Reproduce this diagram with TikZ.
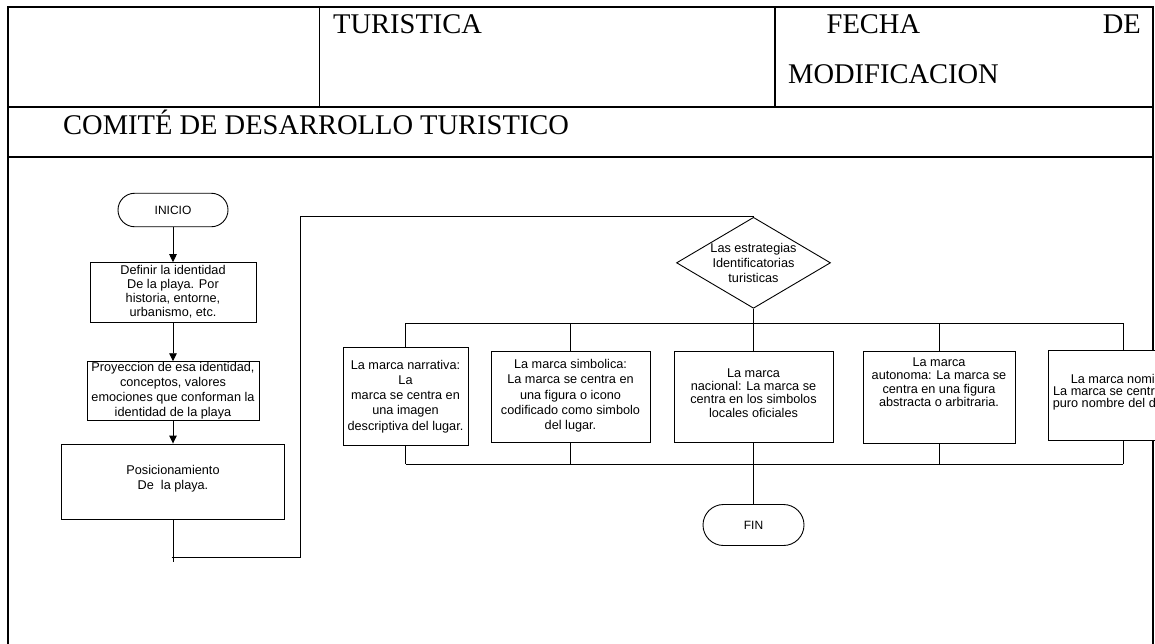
\documentclass[tikz,border=0pt]{standalone}
\usepackage{fontspec}
\setmainfont{Liberation Serif}
\newfontfamily\arialf{Liberation Sans}
\usetikzlibrary{shapes.geometric,arrows.meta}
\newcommand{\boxtxt}[5]{\parbox[c][#2pt][t]{#1pt}{\centering\fontsize{12.7}{#3}\selectfont\rule{0pt}{#4pt}#5}}
\tikzset{
  hdr/.style={font=\fontsize{28.5}{34}\selectfont, inner sep=0pt},
  tline/.style={line width=2pt},
  tthin/.style={line width=1pt},
  conn/.style={line width=0.9pt},
  arr/.style={conn, -{Triangle[length=8pt,width=7.5pt]}},
  term/.style={draw, line width=0.9pt, inner sep=0pt, font=\arialf\fontsize{12}{14}\selectfont},
  fbox/.style={draw, fill=white, line width=0.9pt, inner sep=0pt, font=\arialf},
  dtext/.style={align=center, inner sep=0pt, font=\arialf\fontsize{12.7}{15}\selectfont},
}
\begin{document}
\begin{tikzpicture}[x=1pt,y=-1pt]
\useasboundingbox (0,0) rectangle (1155,643);
\clip (0,0) rectangle (1155,643);
% table
\draw[tline] (8,7) -- (1152.5,7);
\draw[tline] (8,6) -- (8,650);
\draw[tline] (1152.5,6) -- (1152.5,650);
\draw[tline] (8,107) -- (1152.5,107);
\draw[tline] (8,157) -- (1152.5,157);
\draw[tthin] (319,7) -- (319,107);
\draw[line width=1.5pt] (775,7) -- (775,107);
\node[hdr, anchor=base west] (turis) at (333,33) {TURISTICA};
\node[hdr, anchor=base west] (fecha) at (826.5,33) {FECHA};
\node[hdr, anchor=base east] (de) at (1141,33) {DE};
\node[hdr, anchor=base west] (modif) at (788,83.3) {MODIFICACION};
\node[hdr, anchor=base west] (comite) at (63,134.3) {COMITÉ DE DESARROLLO TURISTICO};
% left column
\node[term, minimum width=110, minimum height=33.5, rounded corners=16.7] (ini) at (173,210) {INICIO};
\node[fbox] (b1) at (173,292.3) {\boxtxt{166}{59.3}{14.1}{11.5}{Definir la identidad\\De la playa. Por\\historia, entorne,\\urbanismo, etc.}};
\node[fbox] (b2) at (173,391.2) {\boxtxt{172}{59}{14.8}{10}{Proyeccion de esa identidad,\\conceptos, valores\\emociones que conforman la\\identidad de la playa}};
\node[fbox] (b3) at (173,481.5) {\boxtxt{223.5}{75}{15.3}{30.5}{Posicionamiento\\De\ \ la playa.}};
\draw[arr] (ini.south) -- (b1.north);
\draw[arr] (b1.south) -- (b2.north);
\draw[arr] (b2.south) -- (b3.north);
\coordinate (c1) at (173,562);
\coordinate (c2) at (171.5,557);
\coordinate (c3) at (300,557);
\draw[conn] (b3.south) -- (c1);
% diamond
\node[draw, diamond, line width=0.9pt, minimum width=154, minimum height=91, inner sep=0pt,
  label={[dtext]center:Las estrategias\\Identificatorias\\turisticas}] (dia) at (753.5,262.8) {};
\draw[conn] (c2) -- (c3) |- (dia.north);
% boxes
\node[fbox] (ba) at (405.5,396) {\boxtxt{125}{98}{15.3}{22}{La marca narrativa:\\La\\marca se centra en\\una imagen\\descriptiva del lugar.}};
\node[fbox] (bb) at (570.5,396.5) {\boxtxt{159}{91}{15.4}{17.3}{La marca simbolica:\\La marca se centra en\\una figura o icono\\codificado como simbolo\\del lugar.}};
\node[fbox] (bc) at (753.5,396.5) {\boxtxt{159}{91}{13.4}{26}{La marca\\nacional: La marca se\\centra en los simbolos\\locales oficiales}};
\node[fbox] (bd) at (939,397.2) {\boxtxt{152}{91.5}{13.5}{15}{La marca\\autonoma: La marca se\\centra en una figura\\abstracta o arbitraria.}};
\node[fbox] (be) at (1123,395.3) {\boxtxt{150}{89.3}{12}{33}{La marca nominal:\\La marca se centra en el\\puro nombre del destino.}};
\node[term, minimum width=101, minimum height=41, rounded corners=20.5] (fin) at (753.5,525) {FIN};
% buses
\coordinate (tl) at (405.5,323);
\coordinate (tr) at (1123,323);
\coordinate (bl) at (405.5,464);
\coordinate (br) at (1123,464);
\draw[conn] (tl) -- (tr);
\draw[conn] (bl) -- (br);
\draw[conn] (tl) -- (ba.north);
\draw[conn] (bb.north |- tl) -- (bb.north);
\draw[conn] (dia.south) -- (bc.north);
\draw[conn] (bd.north |- tl) -- (bd.north);
\draw[conn] (tr) -- (be.north);
\draw[conn] (ba.south) -- (bl);
\draw[conn] (bb.south) -- (bb.south |- bl);
\draw[conn] (bc.south) -- (fin.north);
\draw[conn] (bd.south) -- (bd.south |- bl);
\draw[conn] (be.south) -- (br);
\end{tikzpicture}
\end{document}
